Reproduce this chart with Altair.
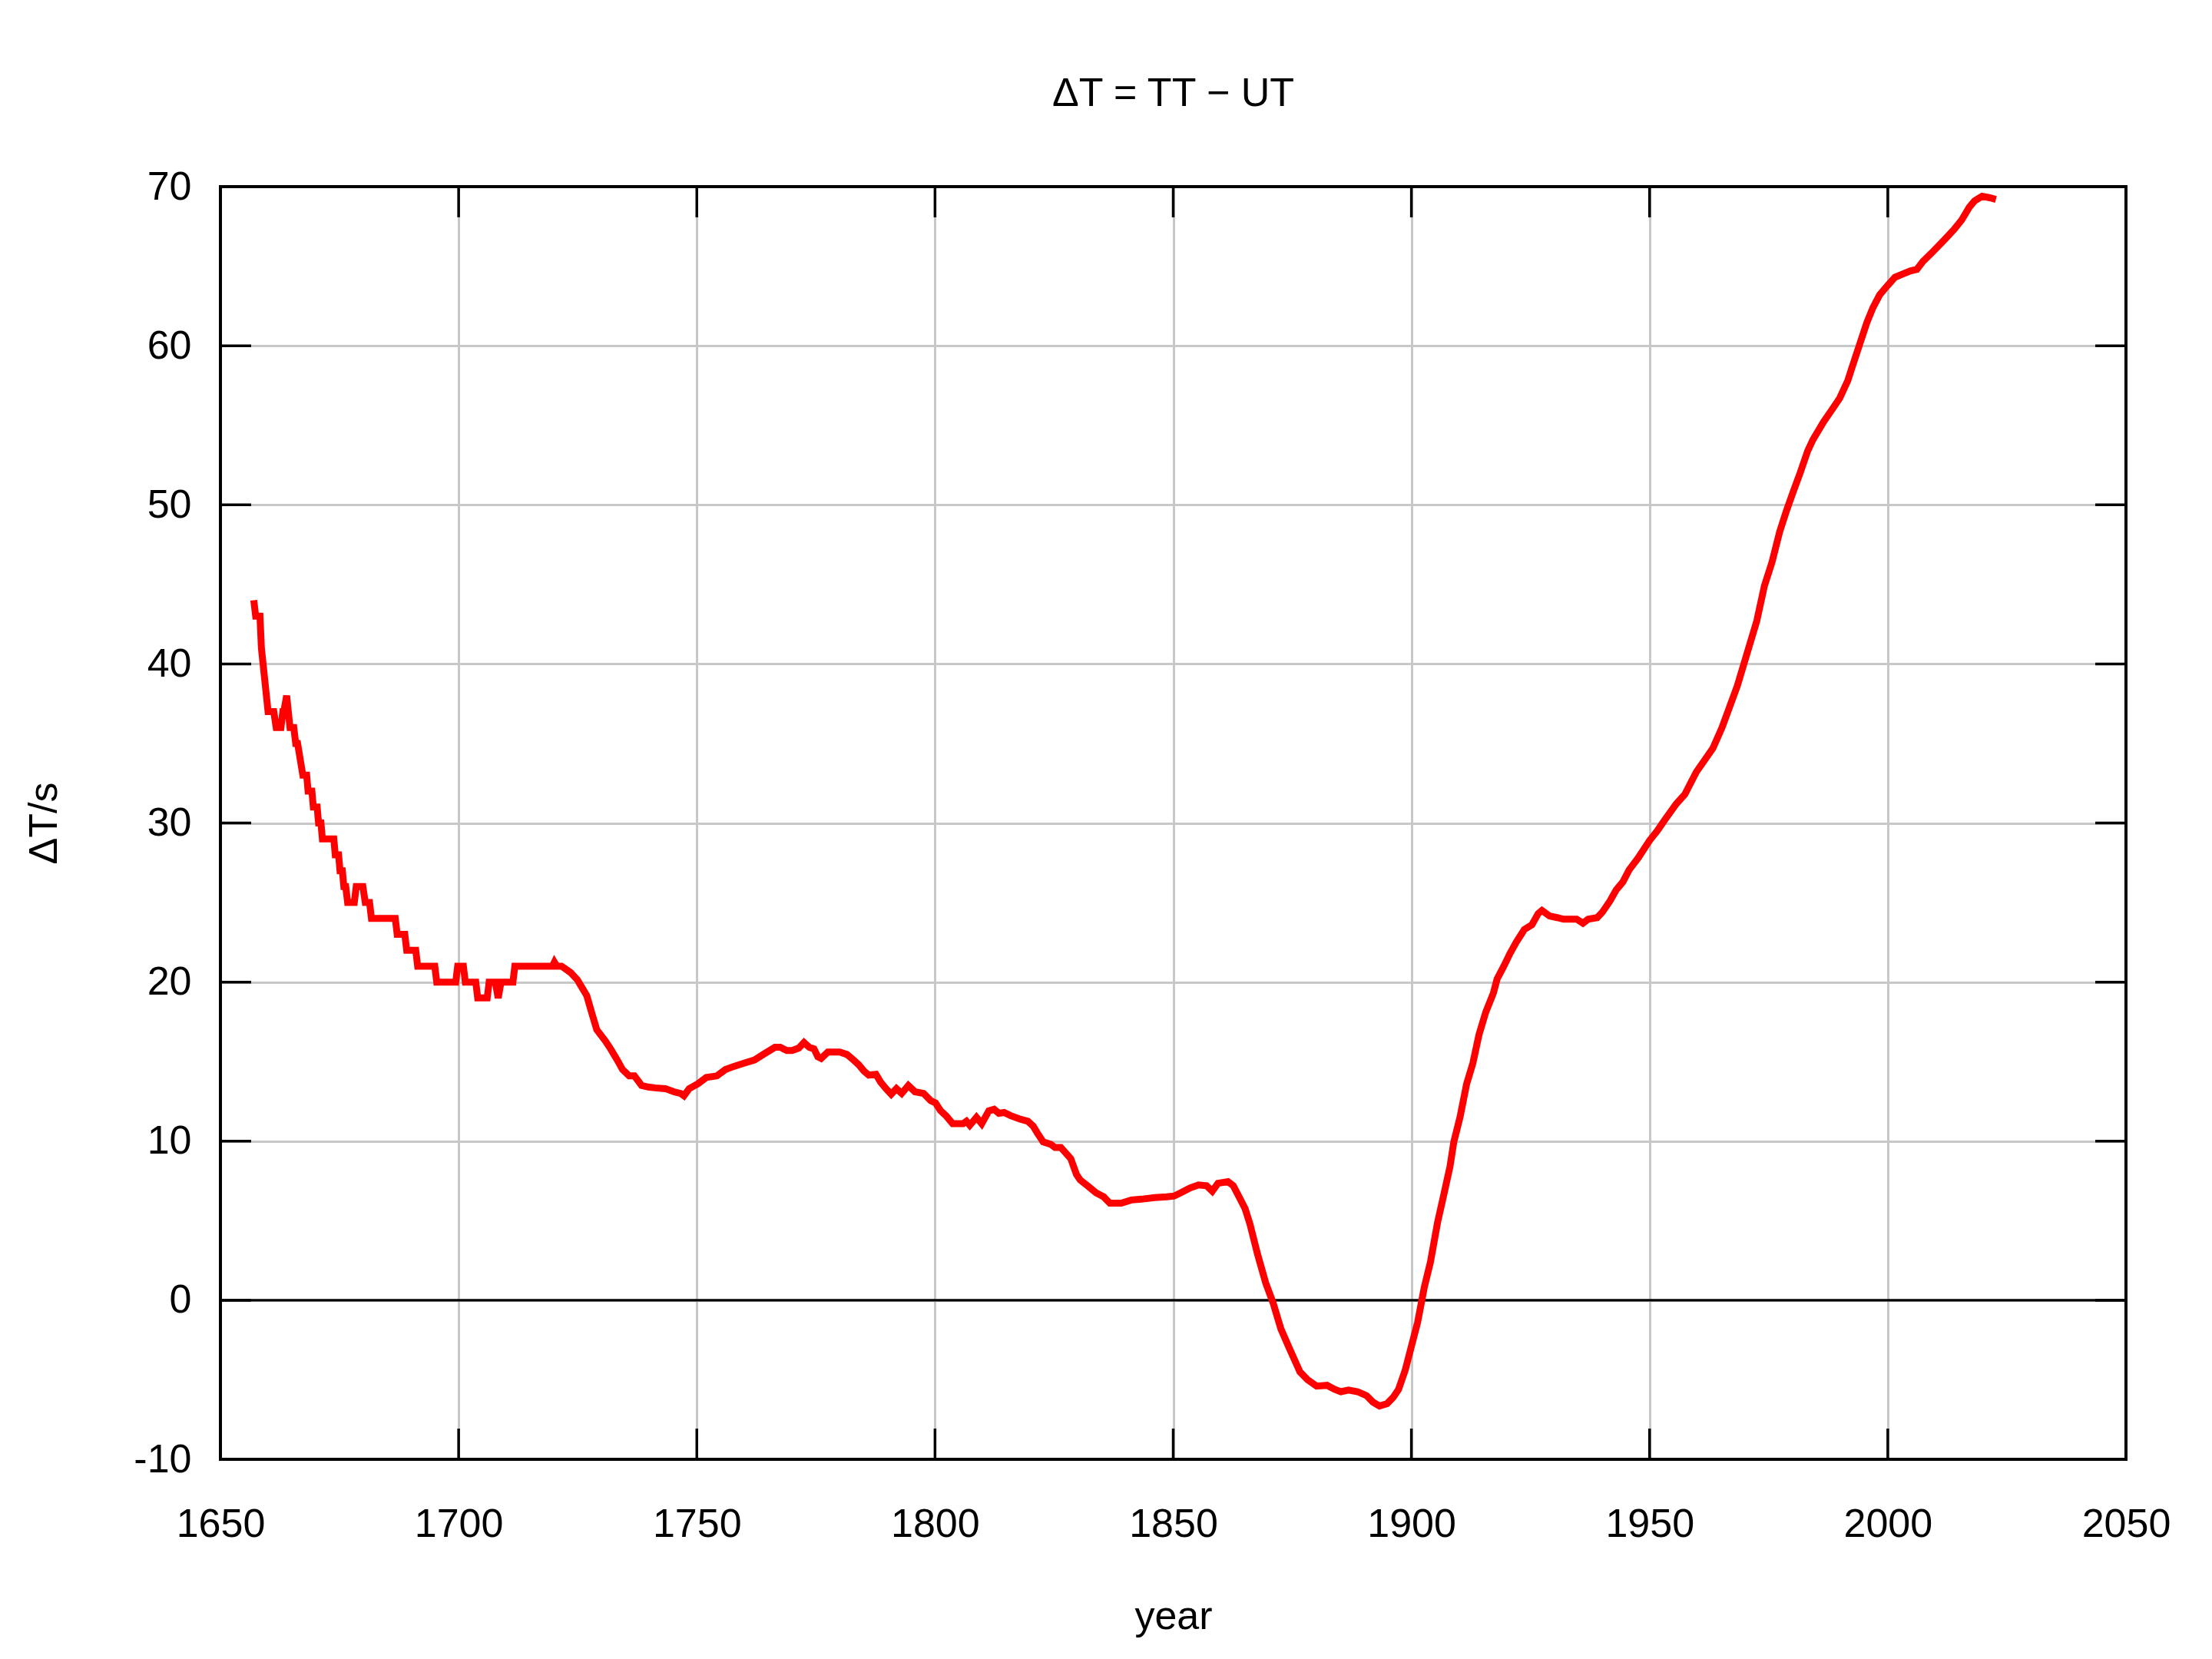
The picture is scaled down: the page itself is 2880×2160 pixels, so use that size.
import altair as alt
import pandas as pd

# ---- data ----
years = [
    1657.0, 1657.4, 1658.3, 1658.6, 1660.0, 1661.2, 1661.7, 1662.7, 1663.1, 1663.3,
    1663.9, 1664.6, 1665.4, 1665.8, 1666.2, 1667.3, 1668.1, 1668.4, 1669.2, 1669.5,
    1670.3, 1670.6, 1671.1, 1671.4, 1673.8, 1674.1, 1674.8, 1675.1, 1675.6, 1675.9,
    1676.3, 1676.7, 1678.1, 1678.5, 1679.9, 1680.4, 1681.3, 1681.7, 1686.7, 1687.1,
    1688.7, 1689.1, 1691.0, 1691.4, 1695.0, 1695.4, 1699.4, 1699.8, 1701.0, 1701.4,
    1703.6, 1704.0, 1706.0, 1706.4, 1707.7, 1708.3, 1708.9, 1711.4, 1711.8, 1719.7,
    1720.1, 1720.6, 1721.6, 1723.5, 1724.9, 1726.0, 1726.9, 1728.0, 1729.0, 1730.8,
    1731.9, 1733.3, 1734.4, 1735.8, 1736.9, 1738.4, 1739.8, 1741.2, 1743.4, 1745.2,
    1746.6, 1747.3, 1748.4, 1750.2, 1752.0, 1754.2, 1756.0, 1757.8, 1759.9, 1762.1,
    1764.2, 1766.4, 1767.5, 1768.9, 1770.0, 1771.4, 1772.5, 1773.6, 1774.6, 1775.4,
    1776.1, 1777.5, 1780.0, 1781.5, 1782.9, 1784.0, 1785.1, 1786.1, 1787.6, 1788.6,
    1789.7, 1790.8, 1791.9, 1793.0, 1794.4, 1795.8, 1797.6, 1799.1, 1800.1, 1801.2,
    1802.3, 1803.7, 1805.9, 1806.6, 1807.3, 1808.7, 1809.8, 1811.3, 1812.4, 1813.4,
    1814.5, 1815.9, 1817.7, 1819.5, 1820.6, 1821.5, 1822.7, 1824.3, 1825.2, 1826.4,
    1827.6, 1828.5, 1829.7, 1830.5, 1832.2, 1833.8, 1835.4, 1836.7, 1839.1, 1841.2,
    1843.3, 1846.1, 1848.6, 1850.2, 1851.9, 1853.5, 1855.3, 1857.0, 1858.2, 1859.4,
    1861.5, 1862.6, 1864.0, 1865.1, 1866.1, 1867.7, 1869.4, 1871.0, 1872.6, 1874.5,
    1876.6, 1878.2, 1880.1, 1882.3, 1883.9, 1885.2, 1886.8, 1888.7, 1890.6, 1891.9,
    1893.3, 1894.9, 1896.2, 1897.3, 1898.7, 1900.0, 1901.3, 1902.7, 1904.0, 1905.5,
    1906.7, 1908.1, 1908.9, 1910.2, 1911.6, 1912.9, 1914.2, 1915.6, 1917.2, 1918.0,
    1919.4, 1920.7, 1922.0, 1923.7, 1925.3, 1926.6, 1927.4, 1929.0, 1930.6, 1932.0,
    1933.9, 1934.7, 1936.0, 1937.1, 1939.0, 1940.1, 1941.7, 1943.0, 1944.4, 1945.7,
    1947.6, 1950.0, 1951.6, 1953.2, 1955.6, 1957.4, 1959.8, 1963.3, 1965.2, 1968.4,
    1970.6, 1972.5, 1974.1, 1975.7, 1977.3, 1978.7, 1980.0, 1981.6, 1983.2, 1984.3,
    1986.5, 1988.1, 1989.9, 1991.6, 1992.4, 1994.0, 1995.6, 1996.9, 1998.3, 2000.0,
    2001.5, 2003.1, 2004.7, 2006.1, 2007.4, 2009.6, 2011.7, 2013.9, 2015.5, 2017.1,
    2018.2, 2019.8, 2021.4, 2022.7,
]
delta_t = [
    44, 43, 43, 41, 37, 37, 36, 36, 37, 37,
    38, 36, 36, 35, 35, 33, 33, 32, 32, 31,
    31, 30, 30, 29, 29, 28, 28, 27, 27, 26,
    26, 25, 25, 26, 26, 25, 25, 24, 24, 23,
    23, 22, 22, 21, 21, 20, 20, 21, 21, 20,
    20, 19, 19, 20, 20, 19, 20, 20, 21, 21,
    21.25, 21.0, 21.0, 20.6, 20.15, 19.6, 19.15, 18.0, 17.0, 16.3,
    15.8, 15.1, 14.5, 14.1, 14.1, 13.5, 13.4, 13.35, 13.3, 13.1,
    13.0, 12.85, 13.3, 13.6, 14.0, 14.1, 14.5, 14.7, 14.9, 15.1,
    15.5, 15.9, 15.9, 15.7, 15.7, 15.85, 16.2, 15.9, 15.8, 15.3,
    15.2, 15.6, 15.6, 15.45, 15.1, 14.8, 14.4, 14.15, 14.2, 13.7,
    13.3, 12.95, 13.3, 13.0, 13.5, 13.1, 13.0, 12.55, 12.4, 11.9,
    11.6, 11.1, 11.1, 11.25, 11.0, 11.5, 11.1, 11.9, 12.0, 11.75,
    11.8, 11.6, 11.4, 11.25, 10.95, 10.5, 9.95, 9.8, 9.6, 9.6,
    9.2, 8.9, 7.9, 7.55, 7.15, 6.75, 6.5, 6.1, 6.1, 6.3,
    6.35, 6.45, 6.5, 6.55, 6.8, 7.05, 7.25, 7.2, 6.85, 7.35,
    7.45, 7.2, 6.4, 5.75, 4.8, 2.9, 1.1, -0.2, -1.8, -3.1,
    -4.5, -5.0, -5.4, -5.35, -5.6, -5.75, -5.65, -5.75, -6.0, -6.4,
    -6.65, -6.5, -6.1, -5.6, -4.4, -2.9, -1.4, 0.8, 2.4, 4.9,
    6.5, 8.4, 9.95, 11.5, 13.6, 14.9, 16.7, 18.1, 19.3, 20.2,
    21.0, 21.8, 22.5, 23.3, 23.6, 24.3, 24.5, 24.15, 24.05, 23.95,
    23.95, 23.95, 23.7, 23.95, 24.05, 24.4, 25.1, 25.8, 26.3, 27.05,
    27.8, 28.9, 29.5, 30.2, 31.2, 31.8, 33.2, 34.7, 36.0, 38.6,
    40.8, 42.7, 44.9, 46.4, 48.3, 49.6, 50.7, 52.0, 53.4, 54.1,
    55.2, 55.9, 56.7, 57.8, 58.55, 60.0, 61.45, 62.4, 63.2, 63.8,
    64.3, 64.5, 64.7, 64.8, 65.3, 65.95, 66.6, 67.3, 67.9, 68.7,
    69.1, 69.4, 69.3, 69.2,
]
x_ticks = [1650, 1700, 1750, 1800, 1850, 1900, 1950, 2000, 2050]
y_ticks = [-10, 0, 10, 20, 30, 40, 50, 60, 70]

title_text = "ΔT = TT − UT"
x_title = "year"
y_title = "ΔT/s"

# ---- layout / style ----
W, H = 2481, 1657
FONT = "Liberation Sans"
FS = 52
TICK = 40

df = pd.DataFrame({"year": years, "dt": delta_t})
xt = pd.DataFrame({"year": x_ticks})
yt = pd.DataFrame({"dt": y_ticks})
zero = pd.DataFrame({"dt": [0]})

xs = alt.Scale(domain=[1650, 2050], nice=False, zero=False)
ys = alt.Scale(domain=[-10, 70], nice=False, zero=False)

x_axis = alt.Axis(
    values=x_ticks, grid=True, gridColor="#c8c8c8", gridWidth=3,
    ticks=False, tickSize=0, domain=False,
    labelFont=FONT, labelFontSize=FS, labelColor="black",
    labelPadding=100, labelBaseline="alphabetic", labelFlush=False,
    labelOverlap=False, labelExpr="toString(datum.value)",
    title=x_title, titleFont=FONT, titleFontSize=FS, titleFontWeight="normal",
    titleColor="black", titleX=W / 2, titleY=220, titleBaseline="alphabetic",
    titleAlign="center",
)
y_axis = alt.Axis(
    values=y_ticks, grid=True, gridColor="#c8c8c8", gridWidth=3,
    ticks=False, tickSize=0, domain=False,
    labelFont=FONT, labelFontSize=FS, labelColor="black",
    labelPadding=38, labelBaseline="middle", labelFlush=False,
    labelOverlap=False, labelExpr="toString(datum.value)",
    title=y_title, titleFont=FONT, titleFontSize=FS, titleFontWeight="normal",
    titleColor="black", titleX=-214, titleY=H / 2, titleBaseline="alphabetic",
    titleAlign="center", titleAngle=270,
)

X = lambda: alt.X("year:Q", scale=xs, axis=x_axis)
Y = lambda: alt.Y("dt:Q", scale=ys, axis=y_axis)

zero_line = alt.Chart(zero).mark_rule(color="black", strokeWidth=3.3).encode(
    y=Y(), x=alt.value(0), x2=alt.value(W),
)

curve = alt.Chart(df).mark_line(color="#ff0000", strokeWidth=9, clip=True).encode(
    x=X(), y=Y(),
)

tick_style = dict(color="black", strokeWidth=3.5)
bottom_ticks = alt.Chart(xt).mark_rule(**tick_style).encode(
    x=X(), y=alt.value(H), y2=alt.value(H - TICK))
top_ticks = alt.Chart(xt).mark_rule(**tick_style).encode(
    x=X(), y=alt.value(0), y2=alt.value(TICK))
left_ticks = alt.Chart(yt).mark_rule(**tick_style).encode(
    y=Y(), x=alt.value(0), x2=alt.value(TICK))
right_ticks = alt.Chart(yt).mark_rule(**tick_style).encode(
    y=Y(), x=alt.value(W), x2=alt.value(W - TICK))

frame_style = dict(color="black", strokeWidth=4)
frame_l = alt.Chart(zero).mark_rule(**frame_style).encode(
    x=alt.value(0), y=alt.value(-2), y2=alt.value(H + 2))
frame_r = alt.Chart(zero).mark_rule(**frame_style).encode(
    x=alt.value(W), y=alt.value(-2), y2=alt.value(H + 2))
frame_t = alt.Chart(zero).mark_rule(**frame_style).encode(
    y=alt.value(0), x=alt.value(0), x2=alt.value(W))
frame_b = alt.Chart(zero).mark_rule(**frame_style).encode(
    y=alt.value(H), x=alt.value(0), x2=alt.value(W))

chart = alt.layer(
    zero_line, curve, bottom_ticks, top_ticks, left_ticks, right_ticks,
    frame_l, frame_r, frame_t, frame_b,
).properties(
    width=W, height=H,
    title=alt.TitleParams(
        title_text, font=FONT, fontSize=FS, fontWeight="normal", color="black",
        anchor="middle", baseline="alphabetic", offset=27, frame="group",
    ),
    autosize=alt.AutoSizeParams(type="none"),
    padding={"left": 279, "top": 235, "right": 104, "bottom": 250},
).configure_view(stroke=None).configure(background="white")

chart.save("out.html", embed_options={"renderer": "svg", "actions": False})
